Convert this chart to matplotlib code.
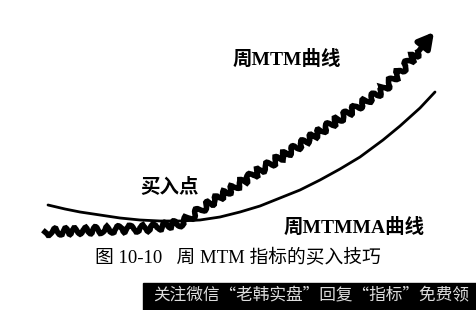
import matplotlib.pyplot as plt
from matplotlib.patches import Rectangle

plt.rcParams['font.family'] = ['Noto Sans CJK SC', 'DejaVu Sans']
serif_cjk = ['Liberation Serif', 'Noto Sans CJK SC']

# --- Data (image pixel units) ---
mtm_x = [45, 100, 150, 182, 200, 250, 300, 333, 383, 418]
mtm_y = [232, 230, 228, 223, 210, 177, 145, 123, 90, 52]
arrow_tip = (434, 32)

ma_x = [48, 65, 80, 100, 120, 140, 160, 180, 200, 220, 240, 260, 280,
        300, 320, 340, 360, 383, 400, 420, 435]
ma_y = [205, 209, 212, 215, 218, 220, 221, 221, 220, 217, 212, 206, 198,
        190, 180, 169, 157, 140, 126, 108, 92]

label_mtm = "周MTM曲线"
label_ma = "周MTMMA曲线"
label_buy = "买入点"
caption = "图 10-10   周 MTM 指标的买入技巧"
watermark = "关注微信“老韩实盘”回复“指标”免费领"

# --- Figure ---
fig = plt.figure(figsize=(4.76, 3.10), dpi=100)
ax = fig.add_axes([0, 0, 1, 1])
ax.set_xlim(0, 476)
ax.set_ylim(310, 0)
ax.axis('off')

# smooth moving-average curve
ax.plot(ma_x, ma_y, color='black', lw=2.0, solid_capstyle='round')

# jagged MTM line (hand-drawn look)
mtm_line, = ax.plot(mtm_x, mtm_y, color='black', lw=4.0, solid_joinstyle='miter')
mtm_line.set_sketch_params(scale=3.5, length=12, randomness=2)

# arrow head
ax.annotate('', xy=arrow_tip, xytext=(mtm_x[-1], mtm_y[-1]),
            arrowprops=dict(arrowstyle='-|>,head_length=0.9,head_width=0.5',
                            color='black', lw=4, shrinkA=0, shrinkB=0))

# labels
ax.text(287, 59, label_mtm, fontsize=14, fontweight='bold', family=serif_cjk,
        ha='center', va='center')
ax.text(170, 187, label_buy, fontsize=14, fontweight='bold', ha='center', va='center')
ax.text(354, 227, label_ma, fontsize=14, fontweight='bold', family=serif_cjk,
        ha='center', va='center')
ax.text(238, 258, caption, fontsize=13.5, family=serif_cjk, ha='center', va='center')

# watermark bar
ax.add_patch(Rectangle((143, 283), 340, 30, color='black', zorder=3))
ax.text(153, 296, watermark, fontsize=12, color='#dddddd', ha='left', va='center', zorder=4)

fig.savefig('out.png', dpi=100)
